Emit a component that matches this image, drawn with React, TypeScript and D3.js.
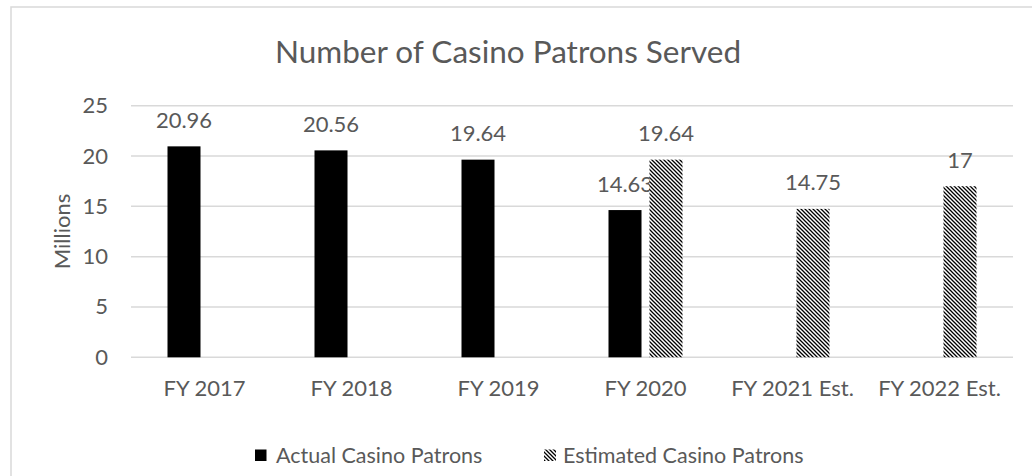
import React from 'react';
import * as d3 from 'd3';

const categories = ['FY 2017', 'FY 2018', 'FY 2019', 'FY 2020', 'FY 2021 Est.', 'FY 2022 Est.'];
const actualPatrons: (number | null)[] = [20.96, 20.56, 19.64, 14.63, null, null];
const estimatedPatrons: (number | null)[] = [null, null, null, 19.64, 14.75, 17];
const seriesNames = ['Actual Casino Patrons', 'Estimated Casino Patrons'];
const yTicks = [0, 5, 10, 15, 20, 25];

const W = 1032;
const H = 476;
const FONT = 'Lato, "Open Sans", sans-serif';
const TEXT = '#595959';
const GRID = '#d9d9d9';

const App = () => {
  const plot = { left: 131, right: 1013, top: 105.7, bottom: 357.3 };

  const x0 = d3.scaleBand<string>().domain(categories).range([plot.left, plot.right]).padding(0);
  const bw = x0.bandwidth();
  const x1 = d3.scaleBand<string>()
    .domain(seriesNames)
    .range([bw / 2 - 37, bw / 2 + 37])
    .paddingInner(0.195)
    .paddingOuter(0);
  const y = d3.scaleLinear().domain([0, 25]).range([plot.bottom, plot.top]);

  const series = [
    { name: seriesNames[0], values: actualPatrons, fill: '#000' },
    { name: seriesNames[1], values: estimatedPatrons, fill: 'url(#hatch)' },
  ];

  return (
    <svg width={W} height={H} style={{ position: 'absolute', left: 0, top: 0, background: '#fff' }}>
      <defs>
        <pattern id="hatch" patternUnits="userSpaceOnUse" width="4" height="4">
          <rect width="4" height="4" fill="#fff" />
          <path d="M-1,-1 L5,5 M-1,3 L1,5 M3,-1 L5,1" stroke="#000" strokeWidth="1.3" />
        </pattern>
      </defs>

      {/* chart frame */}
      <rect x={11} y={7} width={1040} height={500} fill="#fff" stroke={GRID} strokeWidth={1.5} />

      <text x={508} y={63} textAnchor="middle" fontFamily={FONT} fontSize={31.5} fill={TEXT}>
        Number of Casino Patrons Served
      </text>

      {/* gridlines + y ticks */}
      {yTicks.map(t => (
        <g key={t}>
          <line x1={plot.left} x2={plot.right} y1={y(t)} y2={y(t)} stroke={GRID} strokeWidth={1.5} />
          <text x={108} y={y(t) + 7.5} textAnchor="end" fontFamily={FONT} fontSize={22} fill={TEXT}>
            {t}
          </text>
        </g>
      ))}

      <text
        transform={`translate(70,${(plot.top + plot.bottom) / 2}) rotate(-90)`}
        textAnchor="middle"
        fontFamily={FONT}
        fontSize={22}
        fill={TEXT}
      >
        Millions
      </text>

      {/* bars */}
      {series.map(s => (
        <g key={s.name}>
          {s.values.map((v, i) => {
            if (v == null) return null;
            const bx = (x0(categories[i]) as number) + (x1(s.name) as number);
            return (
              <g key={i}>
                <rect x={bx} y={y(v)} width={x1.bandwidth()} height={y(0) - y(v)} fill={s.fill} />
                <text
                  x={bx + x1.bandwidth() / 2}
                  y={y(v) - 18.5}
                  textAnchor="middle"
                  fontFamily={FONT}
                  fontSize={22}
                  fill={TEXT}
                >
                  {v}
                </text>
              </g>
            );
          })}
        </g>
      ))}

      {/* category labels */}
      {categories.map(c => (
        <text
          key={c}
          x={(x0(c) as number) + bw / 2}
          y={396}
          textAnchor="middle"
          fontFamily={FONT}
          fontSize={22}
          fill={TEXT}
        >
          {c}
        </text>
      ))}

      {/* legend */}
      <rect x={255} y={449.5} width={11.5} height={11.5} fill="#000" />
      <text x={276} y={463} fontFamily={FONT} fontSize={21.5} fill={TEXT}>{seriesNames[0]}</text>
      <rect x={544} y={449.5} width={12} height={11.5} fill="url(#hatch)" />
      <text x={563} y={463} fontFamily={FONT} fontSize={21.5} fill={TEXT}>{seriesNames[1]}</text>
    </svg>
  );
};

export default App;
